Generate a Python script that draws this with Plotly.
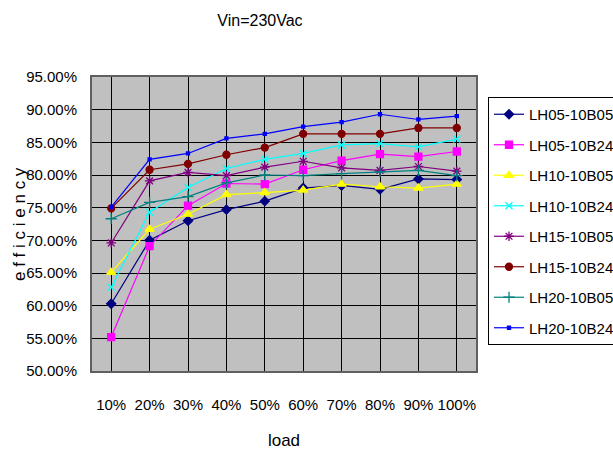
import plotly.graph_objects as go

loads = ["10%", "20%", "30%", "40%", "50%", "60%", "70%", "80%", "90%", "100%"]

lh05_10b05 = [60.3, 70.0, 73.0, 74.7, 76.0, 78.0, 78.4, 77.8, 79.4, 79.3]
lh05_10b24 = [55.2, 69.1, 75.3, 78.7, 78.6, 80.8, 82.2, 83.2, 82.8, 83.6]
lh10_10b05 = [65.1, 71.7, 74.0, 77.0, 77.3, 77.7, 78.6, 78.2, 78.0, 78.6]
lh10_10b24 = [62.8, 74.3, 78.1, 81.0, 82.4, 83.3, 84.6, 84.8, 84.3, 85.5]
lh15_10b05 = [69.6, 79.1, 80.4, 79.9, 81.2, 82.1, 81.1, 80.7, 81.3, 80.6]
lh15_10b24 = [74.9, 80.8, 81.7, 83.1, 84.2, 86.3, 86.3, 86.3, 87.2, 87.2]
lh20_10b05 = [73.3, 75.8, 76.7, 78.8, 80.0, 79.9, 80.2, 80.5, 80.7, 79.9]
lh20_10b24 = [75.1, 82.4, 83.3, 85.6, 86.3, 87.4, 88.1, 89.3, 88.5, 89.0]

series_names = ["LH05-10B05", "LH05-10B24", "LH10-10B05", "LH10-10B24",
                "LH15-10B05", "LH15-10B24", "LH20-10B05", "LH20-10B24"]
series_values = [lh05_10b05, lh05_10b24, lh10_10b05, lh10_10b24,
                 lh15_10b05, lh15_10b24, lh20_10b05, lh20_10b24]

y_title = "e f f i c i e n c y"
x_title = "load"
chart_title = "Vin=230Vac"

styles = [
    dict(color="#000080", symbol="diamond", size=7),
    dict(color="#FF00FF", symbol="square", size=7),
    dict(color="#FFFF00", symbol="triangle-up", size=8),
    dict(color="#00FFFF", symbol="x-thin-open", size=7),
    dict(color="#800080", symbol="asterisk-open", size=8),
    dict(color="#800000", symbol="circle", size=7),
    dict(color="#008080", symbol="cross-thin-open", size=8),
    dict(color="#0000FF", symbol="square", size=3),
]

FONT = "Liberation Sans, Arial, sans-serif"

W, H = 613, 451
ML, MT, MB = 92, 77, 80
PW = W - ML  # paper width with r=0
PH = H - MT - MB

fig = go.Figure()
for name, vals, st in zip(series_names, series_values, styles):
    fig.add_trace(go.Scatter(
        x=loads, y=vals, name=name, mode="lines+markers", legendgroup=name,
        line=dict(color=st["color"], width=1.2),
        marker=dict(color=st["color"], symbol=st["symbol"], size=st["size"],
                    line=dict(color=st["color"], width=1.3)),
    ))

fig.add_annotation(text=y_title, xref="paper", yref="paper",
                   x=(19 - ML) / PW, y=0.5, xanchor="center", yanchor="middle",
                   textangle=-90, showarrow=False,
                   font=dict(family=FONT, size=17))

fig.update_layout(
    width=W, height=H,
    margin=dict(l=ML, r=0, t=MT, b=MB, autoexpand=False),
    paper_bgcolor="white",
    plot_bgcolor="#C0C0C0",
    font=dict(family=FONT, size=15, color="black"),
    title=dict(text=chart_title, x=260 / W, xanchor="center",
               y=1 - 20 / H, yanchor="middle",
               font=dict(family=FONT, size=16)),
    showlegend=True,
    legend=dict(x=(488 - ML) / PW, xanchor="left", y=(371 - 97) / PH, yanchor="top",
                bgcolor="white", bordercolor="black", borderwidth=1,
                font=dict(family=FONT, size=15), tracegroupgap=8,
                itemwidth=30),
    xaxis=dict(
        domain=[0, 384 / PW],
        automargin=False,
        title=dict(text=x_title, font=dict(family=FONT, size=17), standoff=22),
        showgrid=True, gridcolor="black", gridwidth=1,
        showline=True, linecolor="#606060", linewidth=2, mirror=True,
        ticks="", tickfont=dict(size=15), tickangle=0,
        ticklabelstandoff=19,
        range=[-0.5, 9.5],
    ),
    yaxis=dict(
        automargin=False,
        range=[50, 95], dtick=5, tick0=50,
        tickformat=".2f", ticksuffix="%",
        showgrid=True, gridcolor="black", gridwidth=1,
        showline=True, linecolor="#606060", linewidth=2, mirror=True,
        ticks="", tickfont=dict(size=15),
        ticklabelstandoff=10,
        zeroline=False,
    ),
)

fig.write_html("out.html", config={"displayModeBar": False},
               post_script="document.body.style.margin='0';document.body.style.overflow='hidden';")
